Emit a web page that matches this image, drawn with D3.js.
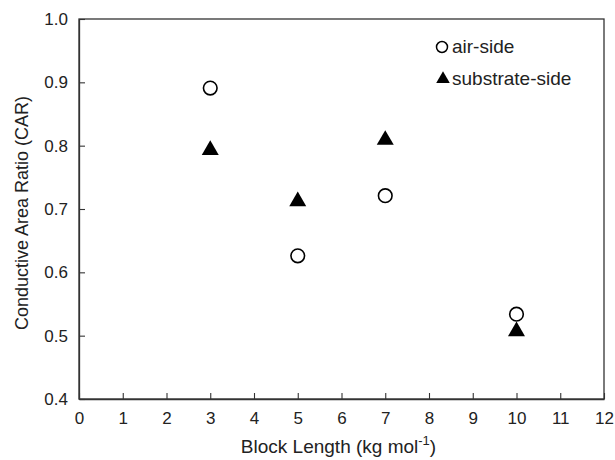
<!DOCTYPE html>
<html>
<head>
<meta charset="utf-8">
<script src="https://cdn.jsdelivr.net/npm/d3@7"></script>
<style>
  body { margin: 0; background: #fff; }
  svg text { font-family: "Liberation Sans", Arial, sans-serif; fill: #222; }
</style>
</head>
<body>
<div id="chart"></div>
<script>
// block length (kg/mol)
const blockLength = [3, 5, 7, 10];
const airSide = [0.891, 0.626, 0.721, 0.534];
const substrateSide = [0.793, 0.712, 0.809, 0.507];
const xTicks = [0, 1, 2, 3, 4, 5, 6, 7, 8, 9, 10, 11, 12];
const yTicks = [0.4, 0.5, 0.6, 0.7, 0.8, 0.9, 1.0];

const width = 615, height = 460;
const margin = { top: 19, right: 11, bottom: 61, left: 79 };
const plotW = width - margin.left - margin.right;
const plotH = height - margin.top - margin.bottom;

const svg = d3.select('#chart').append('svg')
    .attr('width', width).attr('height', height);
const g = svg.append('g').attr('transform', `translate(${margin.left},${margin.top})`);

const x = d3.scaleLinear().domain([0, 12]).range([0, plotW]);
const y = d3.scaleLinear().domain([0.4, 1.0]).range([plotH, 0]);

// frame
g.append('rect')
    .attr('width', plotW).attr('height', plotH)
    .attr('fill', 'none').attr('stroke', '#333').attr('stroke-width', 1.3);

const xAxis = g.append('g').attr('transform', `translate(0,${plotH})`)
    .call(d3.axisBottom(x).tickValues(xTicks).tickSizeInner(-6).tickSizeOuter(0).tickPadding(11));
const yAxis = g.append('g')
    .call(d3.axisLeft(y).tickValues(yTicks).tickSizeInner(-6).tickSizeOuter(0).tickPadding(11)
        .tickFormat(d3.format('.1f')));

[xAxis, yAxis].forEach(a => {
    a.select('.domain').attr('stroke', '#333').attr('stroke-width', 1.3);
    a.selectAll('.tick line').attr('stroke', '#333').attr('stroke-width', 1.1);
    a.selectAll('.tick text').attr('font-size', 17).attr('fill', '#222')
        .attr('font-family', '"Liberation Sans", Arial, sans-serif');
});
xAxis.selectAll('.tick text').attr('dy', '0.8em');

// axis titles
const xTitle = svg.append('text')
    .attr('x', margin.left + plotW / 2 - 3).attr('y', 453)
    .attr('text-anchor', 'middle').attr('font-size', 19);
xTitle.append('tspan').text('Block Length (kg mol');
xTitle.append('tspan').attr('dy', -8).attr('font-size', 13).text('-1');
xTitle.append('tspan').attr('dy', 8).text(')');

svg.append('text')
    .attr('transform', `translate(28,${margin.top + plotH / 2 + 4}) rotate(-90)`)
    .attr('text-anchor', 'middle').attr('font-size', 18)
    .text('Conductive Area Ratio (CAR)');

// markers
const tri = d3.symbol().type(d3.symbolTriangle).size(125);
const triSmall = d3.symbol().type(d3.symbolTriangle).size(80);

g.selectAll('.sub').data(blockLength)
    .join('path').attr('class', 'sub')
    .attr('d', tri)
    .attr('transform', (d, i) => `translate(${x(d)},${y(substrateSide[i])})`)
    .attr('fill', '#000');

g.selectAll('.air').data(blockLength)
    .join('circle').attr('class', 'air')
    .attr('cx', d => x(d)).attr('cy', (d, i) => y(airSide[i]))
    .attr('r', 6.8)
    .attr('fill', '#fff').attr('stroke', '#000').attr('stroke-width', 1.6);

// legend
const legend = svg.append('g').attr('transform', 'translate(442,47)');
legend.append('circle').attr('r', 5.5).attr('fill', '#fff')
    .attr('stroke', '#000').attr('stroke-width', 1.5);
legend.append('text').attr('x', 10).attr('y', 6).attr('font-size', 19).text('air-side');
legend.append('path').attr('d', triSmall).attr('transform', 'translate(1,32)').attr('fill', '#000');
legend.append('text').attr('x', 10).attr('y', 38).attr('font-size', 19).text('substrate-side');
</script>
</body>
</html>
